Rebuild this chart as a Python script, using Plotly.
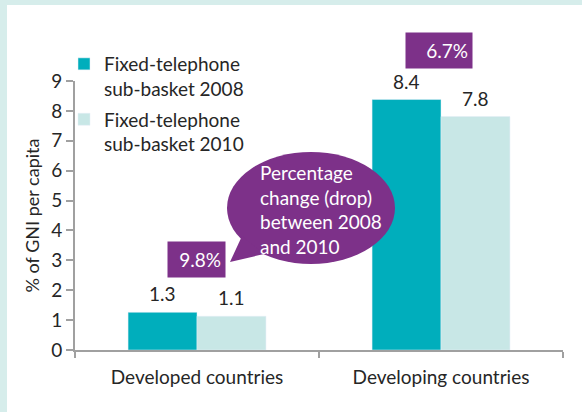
import plotly.graph_objects as go

categories = ["Developed countries", "Developing countries"]
series_names = ["Fixed-telephone<br>sub-basket 2008", "Fixed-telephone<br>sub-basket 2010"]
values_2008 = [1.26, 8.38]
values_2010 = [1.13, 7.81]
labels_2008 = ["1.3", "8.4"]
labels_2010 = ["1.1", "7.8"]
pct_drop = ["9.8%", "6.7%"]
y_ticks = [0, 1, 2, 3, 4, 5, 6, 7, 8, 9]

W, H = 582, 412
L, R, T, B = 75, 19, 81, 62
PW, PH = W - L - R, H - T - B

def px(x):
    return (x - L) / PW

def py(y):
    return (H - B - y) / PH

FONT = "Lato"
FS = 19
TXT = "#262626"
PURPLE = "#7d3189"
C08 = "#00aebc"
C10 = "#c8e7e6"
BARGAP = 0.435
HALF = PW / len(categories) * (1 - BARGAP) / 4  # offset of each bar centre from category centre

fig = go.Figure()
fig.add_trace(go.Bar(x=categories, y=values_2008, name=series_names[0], legendgroup="g1",
                     marker_color=C08, hoverinfo="skip"))
fig.add_trace(go.Bar(x=categories, y=values_2010, name=series_names[1], legendgroup="g2",
                     marker_color=C10, hoverinfo="skip"))

shapes = [
    # teal frame
    dict(type="rect", xref="paper", yref="paper", x0=px(0), x1=px(W), y0=py(0), y1=py(5),
         fillcolor="#d6edeb", line_width=0, layer="below"),
    dict(type="rect", xref="paper", yref="paper", x0=px(0), x1=px(7), y0=py(0), y1=py(H),
         fillcolor="#d6edeb", line_width=0, layer="below"),
    # speech bubble
    dict(type="circle", xref="paper", yref="paper", x0=px(227), x1=px(395), y0=py(264), y1=py(152),
         fillcolor=PURPLE, line_width=0, layer="above"),
    dict(type="path", xref="paper", yref="paper",
         path=f"M {px(242)},{py(236)} L {px(230)},{py(262)} L {px(264)},{py(254)} Z",
         fillcolor=PURPLE, line_width=0, layer="above"),
]

annotations = []
for cat, v8, v10, t8, t10 in zip(categories, values_2008, values_2010, labels_2008, labels_2010):
    annotations.append(dict(x=cat, y=v8, text=t8, showarrow=False, xanchor="center", yanchor="bottom",
                            xshift=-HALF, yshift=5, font=dict(family=FONT, size=FS, color=TXT)))
    annotations.append(dict(x=cat, y=v10, text=t10, showarrow=False, xanchor="center", yanchor="bottom",
                            xshift=HALF, yshift=5, font=dict(family=FONT, size=FS, color=TXT)))

annotations += [
    dict(xref="paper", yref="paper", x=px(196), y=py(259.5), text=pct_drop[0], showarrow=False,
         xanchor="center", yanchor="middle",
         font=dict(family=FONT, size=FS, color="white"), bgcolor=PURPLE,
         width=49, height=27, borderpad=4, align="right"),
    dict(xref="paper", yref="paper", x=px(439), y=py(50.5), text=pct_drop[1], showarrow=False,
         xanchor="center", yanchor="middle",
         font=dict(family=FONT, size=FS, color="white"), bgcolor=PURPLE,
         width=58, height=27, borderpad=4, align="right"),
    dict(xref="paper", yref="paper", x=px(258), y=py(209), xanchor="left", yanchor="middle",
         text="Percentage<br>change (drop)<br>between 2008<br>and 2010", showarrow=False,
         align="left", font=dict(family=FONT, size=FS, color="white")),
]

fig.update_layout(
    width=W, height=H,
    margin=dict(l=L, r=R, t=T, b=B),
    paper_bgcolor="white", plot_bgcolor="white",
    font=dict(family=FONT, size=FS, color=TXT),
    barmode="group", bargap=BARGAP, bargroupgap=0,
    showlegend=True,
    legend=dict(x=px(64), y=py(45), xanchor="left", yanchor="top",
                font=dict(family=FONT, size=FS, color=TXT),
                valign="top", tracegroupgap=3, bgcolor="rgba(0,0,0,0)",
                itemwidth=30),
    xaxis=dict(showline=True, linecolor="#a0a0a0", linewidth=2, ticks="outside",
               tickson="boundaries", ticklen=6, tickcolor="#a0a0a0", tickwidth=2,
               tickfont=dict(size=FS, color=TXT), showgrid=False, ticklabelstandoff=9),
    yaxis=dict(range=[0, 9], tickvals=y_ticks, showline=True, linecolor="#a0a0a0", linewidth=2,
               ticks="outside", ticklen=7, tickcolor="#a0a0a0", tickwidth=2,
               showgrid=False, zeroline=False, tickfont=dict(size=FS, color=TXT),
               title=dict(text="% of GNI per capita", font=dict(size=18, color=TXT), standoff=7)),
    shapes=shapes, annotations=annotations,
)

fig.write_html("out.html", config={"displayModeBar": False},
               post_script="document.body.style.margin='0';document.body.style.overflow='hidden';")
